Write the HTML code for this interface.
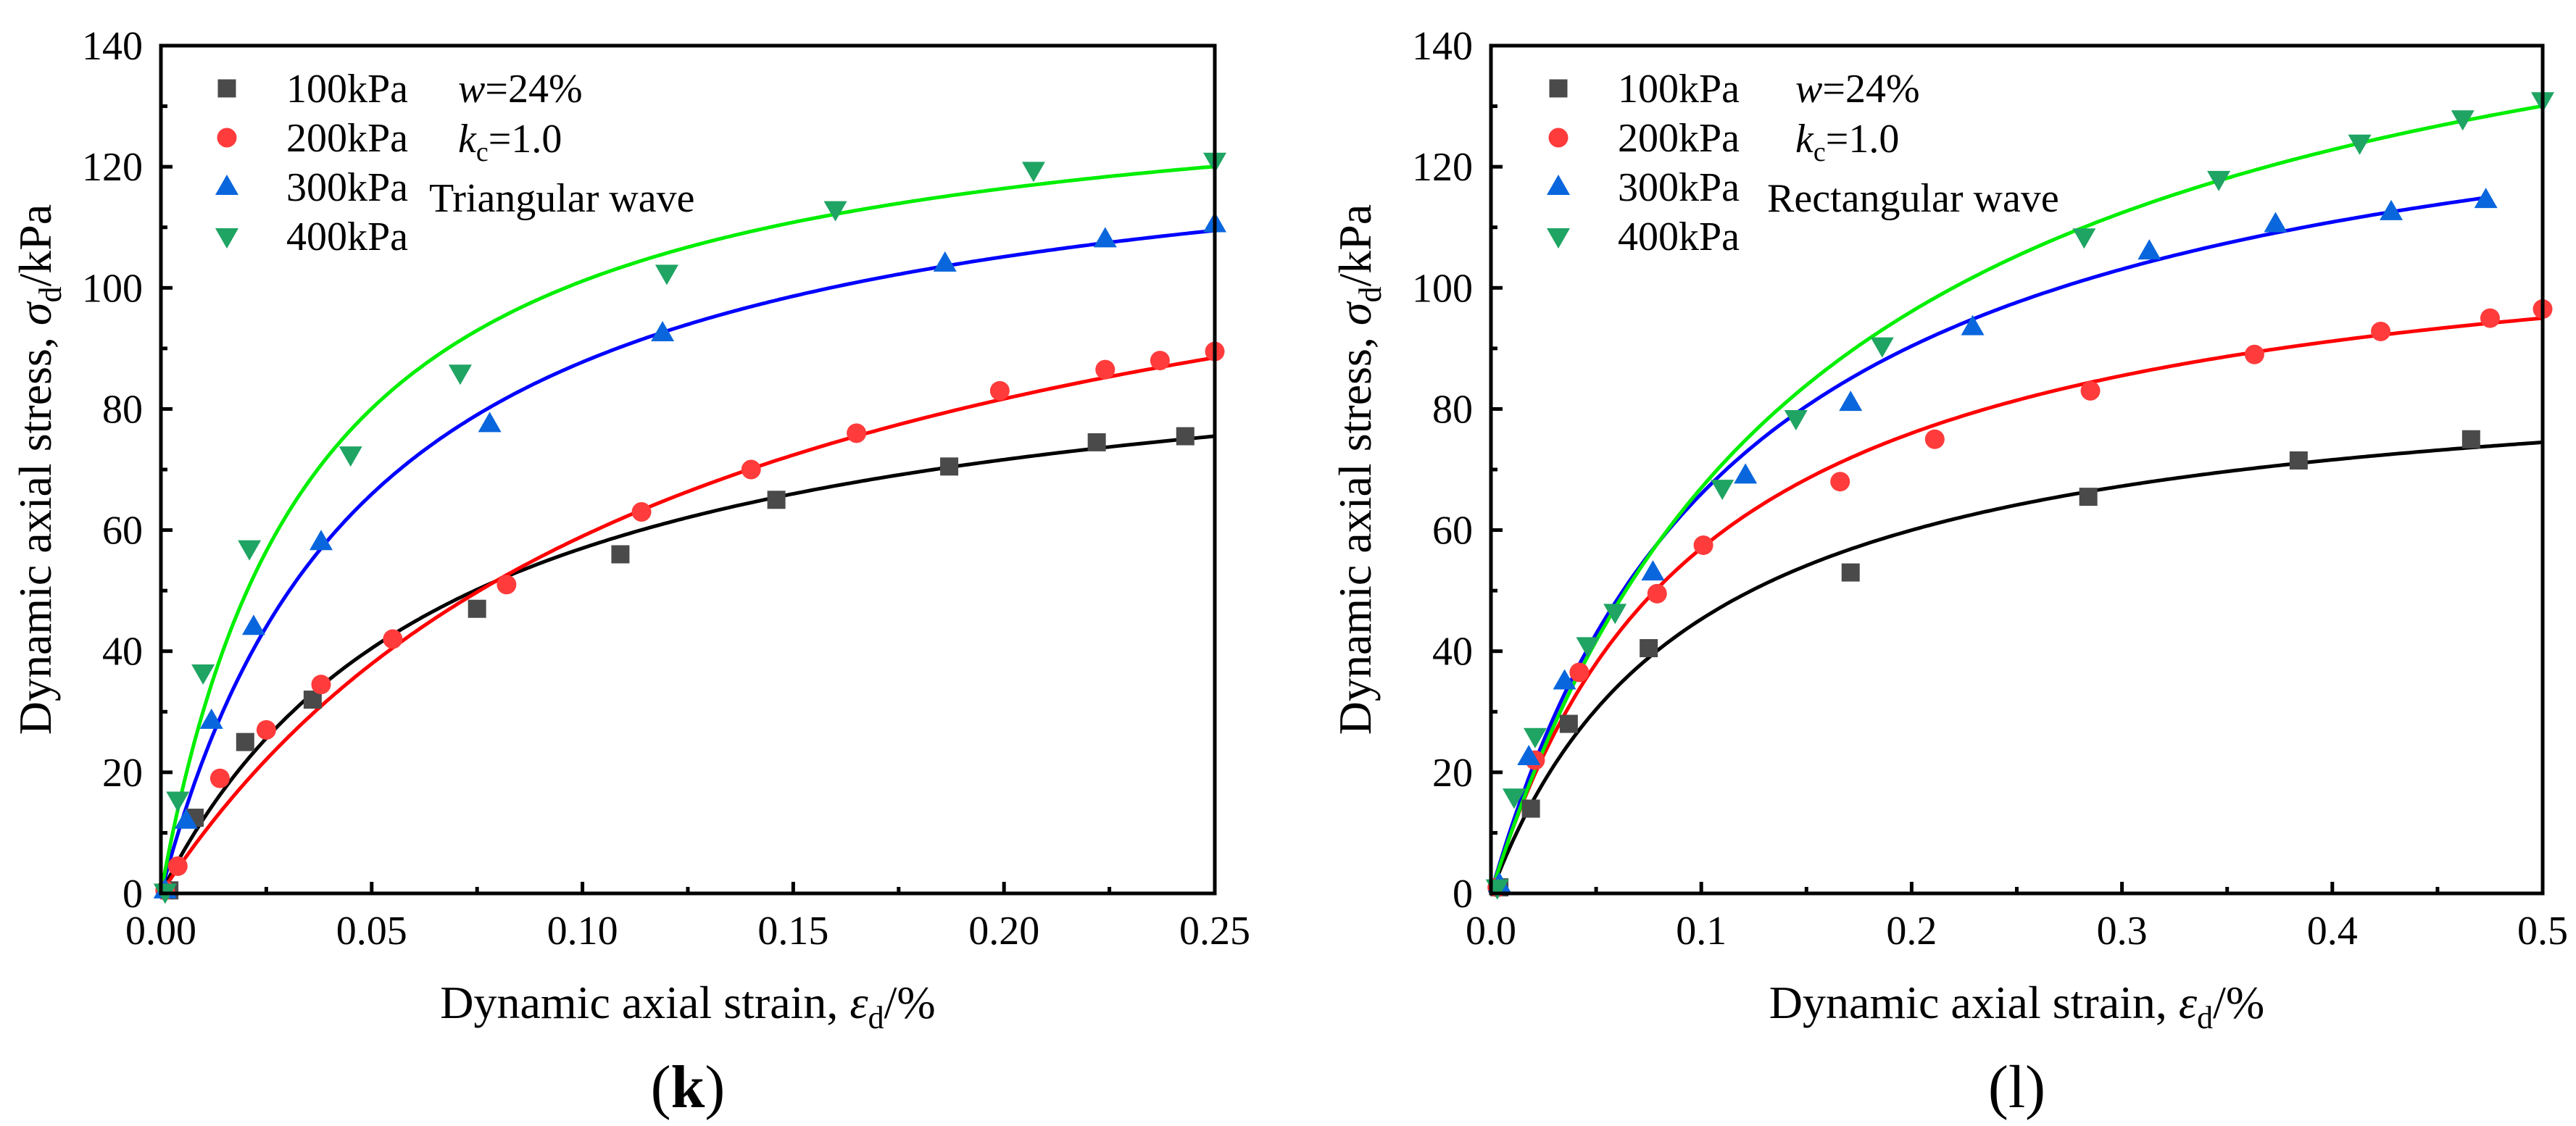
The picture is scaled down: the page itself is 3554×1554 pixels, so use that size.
<!DOCTYPE html>
<html><head><meta charset="utf-8"><style>
html,body{margin:0;padding:0;background:#fff;}
svg{display:block;}
svg text{font-family:"Liberation Serif","DejaVu Serif","Times New Roman",serif;}
</style></head><body>
<svg id="chart" width="3554" height="1554" viewBox="0 0 3554 1554" xmlns="http://www.w3.org/2000/svg" font-family="'Liberation Serif','DejaVu Serif',serif">
<rect x="0" y="0" width="3554" height="1554" fill="#fff"/>
</svg>
<script>
const seriesNames = ['100kPa','200kPa','300kPa','400kPa'];
// Panel k (triangular wave)
const kX100 = [0.002,0.008,0.020,0.036,0.075,0.109,0.146,0.187,0.222,0.243];
const kY100 = [0.5,12.5,25,32,47,56,65,70.5,74.5,75.5];
const kX200 = [0.001,0.004,0.014,0.025,0.038,0.055,0.082,0.114,0.140,0.165,0.199,0.224,0.237,0.250];
const kY200 = [0.5,4.5,19,27,34.5,42,51,63,70,76,83,86.5,88,89.5];
const kX300 = [0.001,0.006,0.012,0.022,0.038,0.078,0.119,0.186,0.224,0.250];
const kY300 = [0.5,12,28.5,44,58,77.5,92.5,104,108,110.5];
const kX400 = [0.001,0.004,0.010,0.021,0.045,0.071,0.120,0.160,0.207,0.250];
const kY400 = [0.3,15.5,36.5,57,72.5,86,102.5,113,119.5,121];
const kFitA = [0.000716,0.000942,0.000377,0.000260];
const kFitB = [0.01038,0.007533,0.007626,0.00729];
// Panel l (rectangular wave)
const lX100 = [0.004,0.019,0.037,0.075,0.171,0.284,0.384,0.466];
const lY100 = [1,14,28,40.5,53,65.5,71.5,75];
const lX200 = [0.003,0.021,0.042,0.079,0.101,0.166,0.211,0.285,0.363,0.423,0.475,0.500];
const lY200 = [1,22,36.5,49.5,57.5,68,75,83,89,92.8,95,96.5];
const lX300 = [0.004,0.018,0.035,0.077,0.121,0.171,0.229,0.313,0.373,0.428,0.473];
const lY300 = [1.5,22.5,35,53,69,81,93.5,106,110.5,112.5,114.5];
const lX400 = [0.003,0.011,0.021,0.046,0.059,0.110,0.145,0.186,0.282,0.346,0.413,0.462,0.500];
const lY400 = [1,16,26,41,46.5,67,78.5,90.5,108.5,118,124,128,131];
const lFitA = [0.001082,0.000877,0.000818,0.000905];
const lFitB = [0.01126,0.008772,0.006974,0.00588];
const lFitEnd = [0.5,0.5,0.475,0.5];
const kXTicks = ['0.00','0.05','0.10','0.15','0.20','0.25'];
const lXTicks = ['0.0','0.1','0.2','0.3','0.4','0.5'];
const yTicks = ['0','20','40','60','80','100','120','140'];

const NS='http://www.w3.org/2000/svg';
const FF="'Liberation Serif','DejaVu Serif',serif";
const svg=document.getElementById('chart');
function mk(tag,attrs,parent){const e=document.createElementNS(NS,tag);for(const k in attrs)e.setAttribute(k,attrs[k]);if(tag==='text')e.setAttribute('font-family',FF);(parent||svg).appendChild(e);return e;}
const lineCol=['#000','#ff0000','#0000ff','#00ee00'];
const markCol=['#4a4a4a','#ff3b3b','#0a66dd','#1fa463'];

function marker(g,type,cx,cy,col){
  let e;
  if(type===0){e=mk('rect',{x:cx-12.5,y:cy-12.5,width:25,height:25,fill:col},g);}
  else if(type===1){e=mk('circle',{cx:cx,cy:cy,r:13.5,fill:col},g);}
  else if(type===2){e=mk('polygon',{points:`${cx},${cy-17} ${cx-16},${cy+11} ${cx+16},${cy+11}`,fill:col},g);}
  else {e=mk('polygon',{points:`${cx},${cy+17} ${cx-16},${cy-11} ${cx+16},${cy-11}`,fill:col},g);}
  return e;
}

function panel(o){
  const g=mk('g',{});
  
  
  const L=o.L,R=o.R,T=63,B=1233;
  const sx=v=>L+(v/o.xmax)*(R-L);
  const sy=v=>B-(v/140)*(B-T);
  for(let s=0;s<4;s++){
    let d='';const end=o.fitEnd[s];
    for(let i=0;i<=300;i++){const e=0.0005+(end-0.0005)*i/300;const v=e/(o.a[s]+o.b[s]*e);d+=(i?'L':'M')+sx(e).toFixed(1)+' '+sy(v).toFixed(1);}
    const p=mk('path',{d:d,fill:'none',stroke:lineCol[s],'stroke-width':5},g);
    
    
  }
  for(let s=0;s<4;s++){
    const xs=o.xs[s],ys=o.ys[s];
    for(let i=0;i<xs.length;i++){
      const m=marker(g,s,sx(xs[i]),sy(ys[i]),markCol[s]);
      
      
    }
  }
  const fr=mk('rect',{x:L,y:T,width:R-L,height:B-T,fill:'none',stroke:'#000','stroke-width':5},g);
  
  
  const nx=o.xticks.length;
  for(let i=0;i<nx;i++){
    const v=o.xmax*i/(nx-1);const x=sx(v);
    mk('line',{x1:x,y1:B,x2:x,y2:B-16,stroke:'#000','stroke-width':5},g);
    if(i<nx-1){const xm=sx(v+o.xmax/(nx-1)/2);mk('line',{x1:xm,y1:B,x2:xm,y2:B-9,stroke:'#000','stroke-width':5},g);}
    const t=mk('text',{x:x,y:1303,'font-size':56,'text-anchor':'middle'},g);t.textContent=o.xticks[i];
    
    
  }
  for(let i=0;i<yTicks.length;i++){
    const v=20*i;const y=sy(v);
    mk('line',{x1:L,y1:y,x2:L+16,y2:y,stroke:'#000','stroke-width':5},g);
    if(i<yTicks.length-1){const ym=sy(v+10);mk('line',{x1:L,y1:ym,x2:L+9,y2:ym,stroke:'#000','stroke-width':5},g);}
    const t=mk('text',{x:L-25,y:y+19,'font-size':56,'text-anchor':'end'},g);t.textContent=yTicks[i];
    
    
  }
  const xt=mk('text',{x:(L+R)/2,y:1405,'font-size':64,'text-anchor':'middle'},g);
  xt.innerHTML='Dynamic axial strain, <tspan font-style="italic">ε</tspan><tspan font-size="44" dy="14">d</tspan><tspan dy="-14">/%</tspan>';
  
  
  const yt=mk('text',{x:0,y:0,'font-size':64,'text-anchor':'middle',transform:`translate(${o.ytx},648) rotate(-90)`},g);
  yt.innerHTML='Dynamic axial stress, <tspan font-style="italic">σ</tspan><tspan font-size="44" dy="14">d</tspan><tspan dy="-14">/kPa</tspan>';
  
  
  for(let s=0;s<4;s++){
    const y=122+68*s;
    const m=marker(g,s,o.legX,y,markCol[s]);
    
    
    const t=mk('text',{x:o.legX+82,y:y+19,'font-size':56},g);t.textContent=seriesNames[s];
    
    
  }
  const a1=mk('text',{x:o.annX,y:141,'font-size':56},g);
  a1.innerHTML='<tspan font-style="italic">w</tspan>=24%';
  
  
  const a2=mk('text',{x:o.annX,y:210,'font-size':56},g);
  a2.innerHTML='<tspan font-style="italic">k</tspan><tspan font-size="38" dy="12">c</tspan><tspan dy="-12">=1.0</tspan>';
  
  
  const a3=mk('text',{x:o.waveX,y:292,'font-size':56},g);a3.textContent=o.wave;
  
  
  const cap=mk('text',{x:(L+R)/2,y:1528,'font-size':84,'text-anchor':'middle'},g);
  cap.innerHTML=o.capHtml;
  
  
}
panel({name:'panel-k',L:222,R:1676,xmax:0.25,xticks:kXTicks,xs:[kX100,kX200,kX300,kX400],ys:[kY100,kY200,kY300,kY400],a:kFitA,b:kFitB,fitEnd:[0.25,0.25,0.25,0.25],ytx:70,legX:313,annX:632,waveX:592,wave:'Triangular wave',capHtml:'(<tspan font-weight="bold">k</tspan>)'});
panel({name:'panel-l',L:2057,R:3508,xmax:0.5,xticks:lXTicks,xs:[lX100,lX200,lX300,lX400],ys:[lY100,lY200,lY300,lY400],a:lFitA,b:lFitB,fitEnd:lFitEnd,ytx:1891,legX:2150,annX:2477,waveX:2438,wave:'Rectangular wave',capHtml:'(l)'});
</script>
</body></html>
